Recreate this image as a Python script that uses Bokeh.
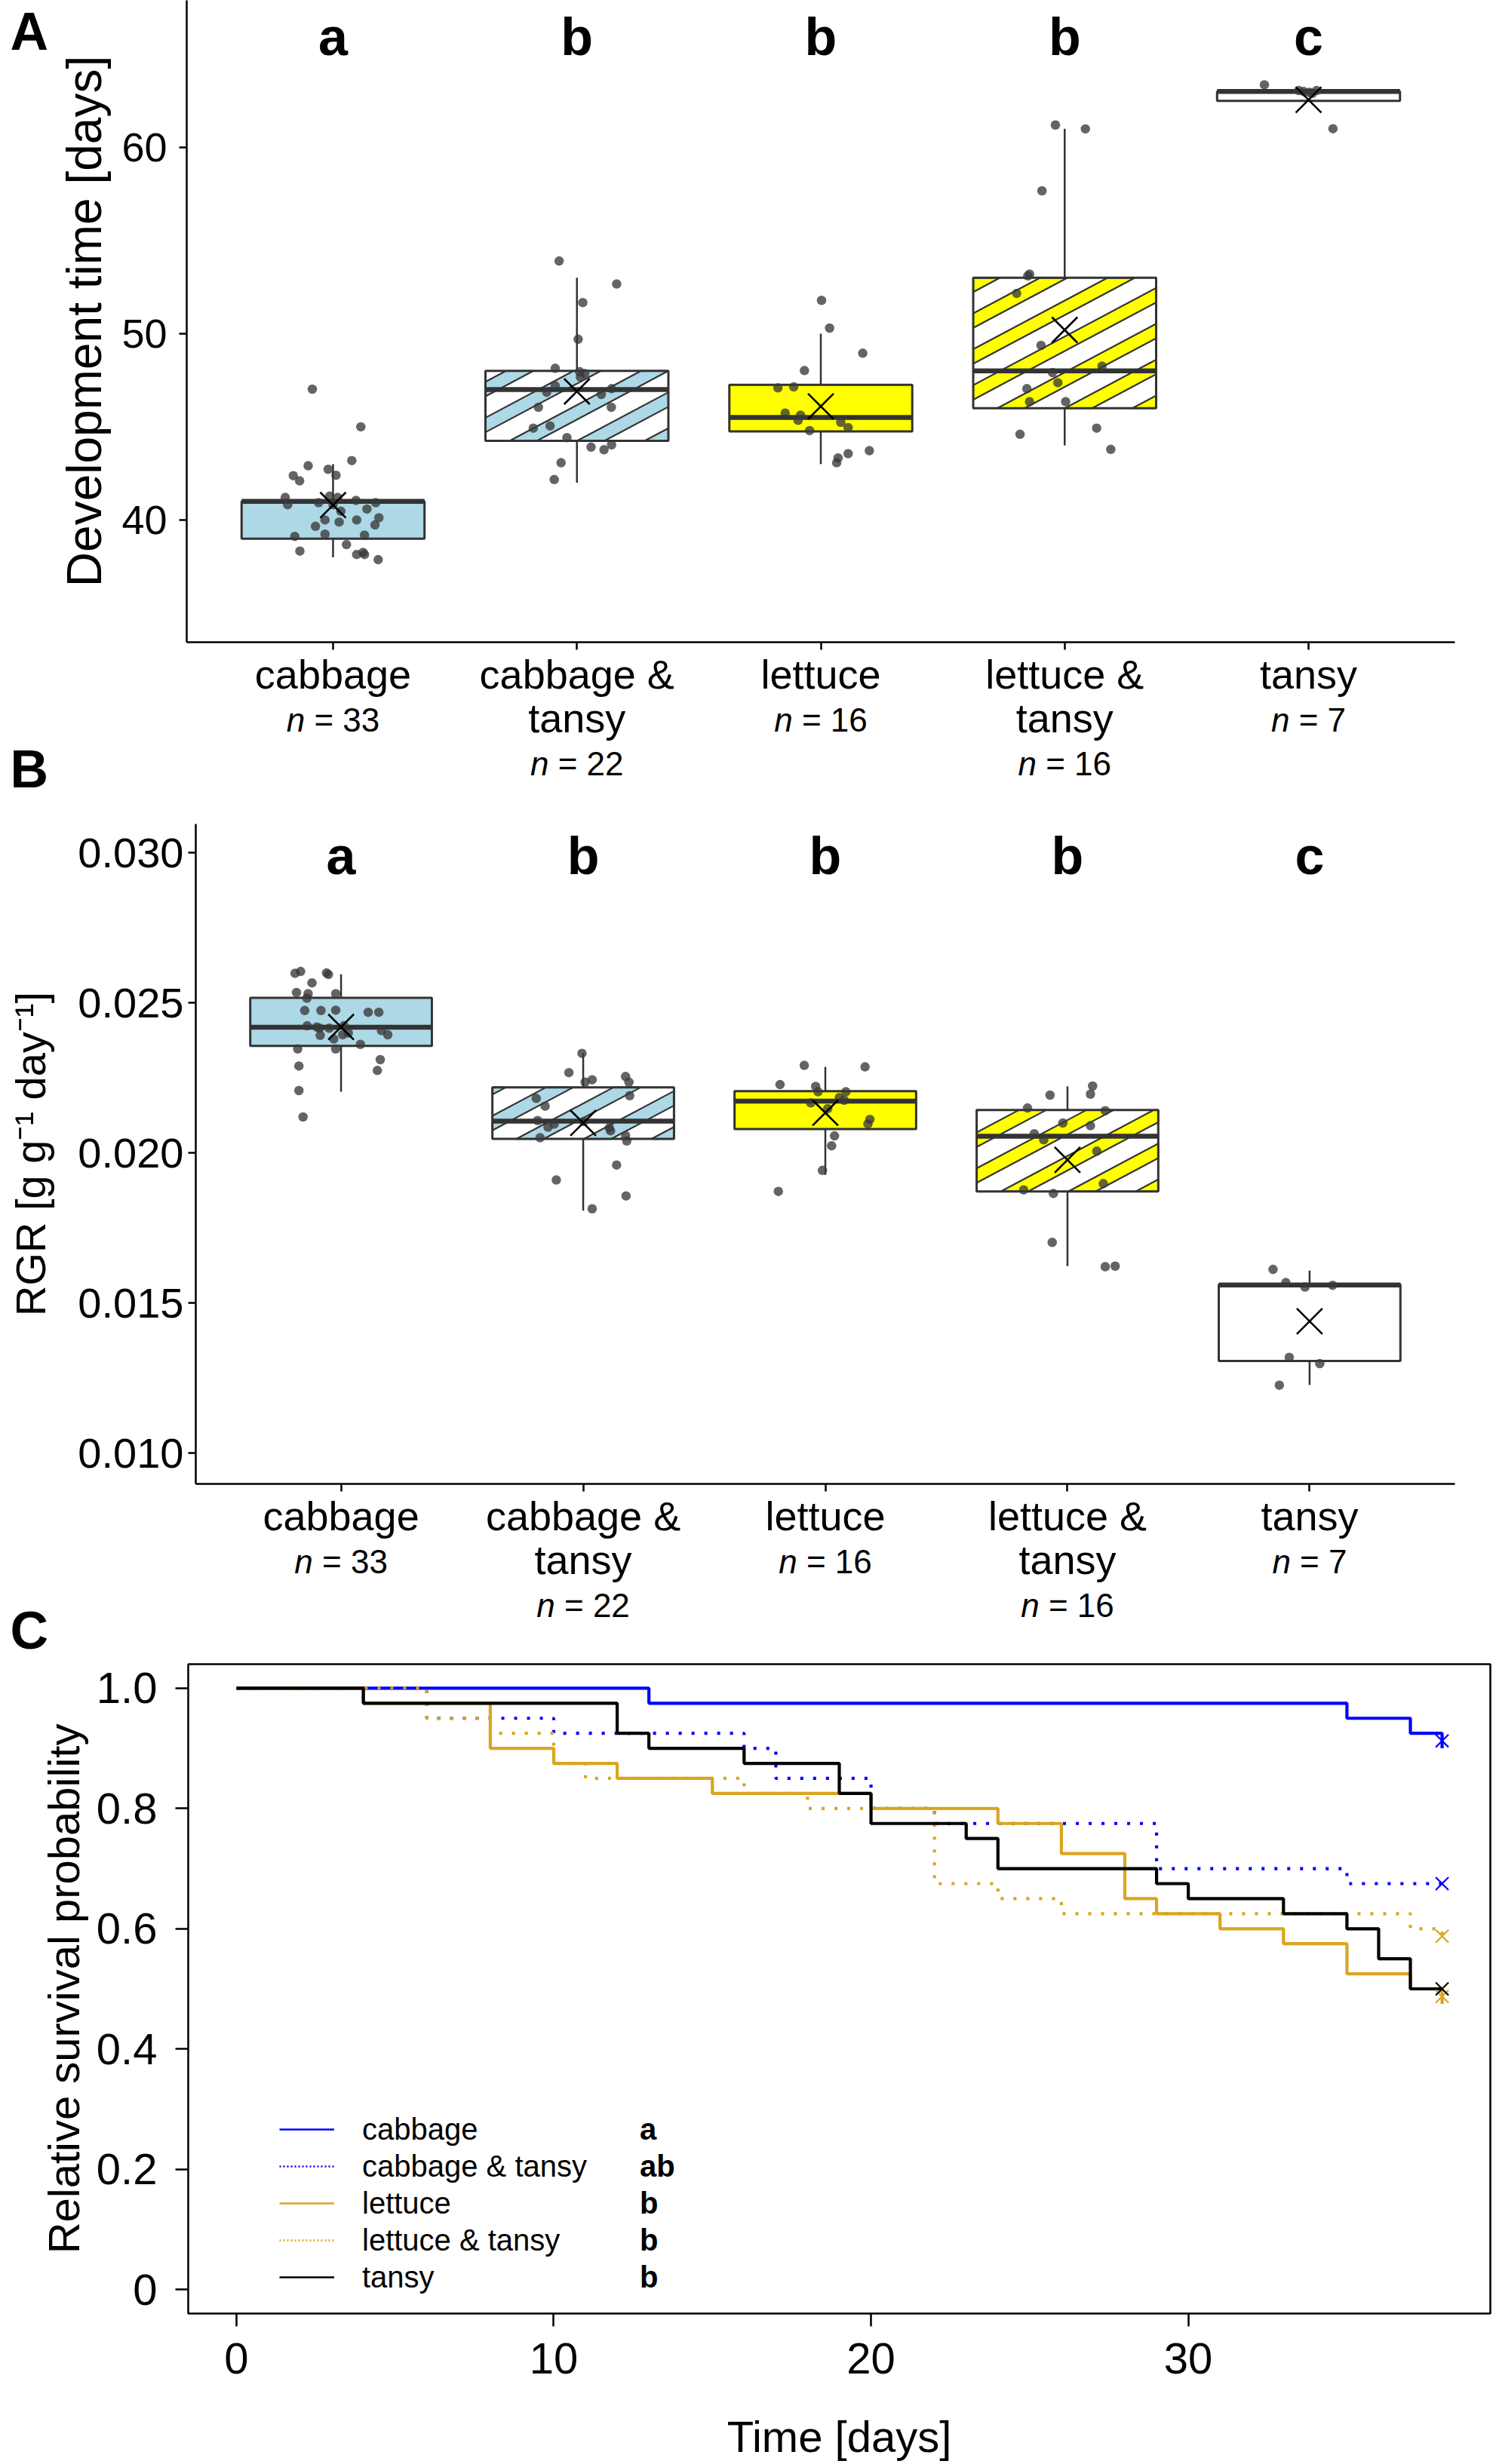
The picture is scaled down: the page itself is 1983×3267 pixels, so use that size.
import math
from bokeh.plotting import figure
from bokeh.models import Range1d, FixedTicker, Legend, LegendItem
from bokeh.layouts import row
from bokeh.embed import file_html
from bokeh.resources import INLINE
from bokeh.core.properties import value

FONT = "Liberation Sans"
DARK = "#333333"
NAN = float("nan")

# ---------------- data ----------------
groups = ["cabbage", "cabbage & tansy", "lettuce", "lettuce & tansy", "tansy"]
cat_lines = [["cabbage"], ["cabbage &", "tansy"], ["lettuce"], ["lettuce &", "tansy"], ["tansy"]]
n_obs = [33, 22, 16, 16, 7]
cats = [1, 2, 3, 4, 5]
box_fill = ["#ADD8E6", "white", "#FFFF00", "white", "white"]
stripe_fill = [None, "#ADD8E6", None, "#FFFF00", None]

# Panel A: development time [days]
dev_letters = ["a", "b", "b", "b", "c"]
dev_q1 = [39.0, 44.25, 44.75, 46.0, 62.5]
dev_med = [41.0, 47.0, 45.5, 48.0, 63.0]
dev_q3 = [41.0, 48.0, 47.25, 53.0, 63.0]
dev_lo = [38.0, 42.0, 43.0, 44.0, 62.5]
dev_hi = [43.0, 53.0, 50.0, 61.0, 63.0]
dev_mean = [40.8, 46.9, 46.1, 50.2, 62.55]

dev_cab_dx = [-0.085, 0.114, 0.077, -0.102, -0.02, 0.012, -0.163, -0.137, -0.196, -0.186, -0.014, 0.019, 0.094,
              0.139, 0.175, 0.0, -0.072, -0.033, 0.025, 0.097, 0.188, 0.172, -0.157, -0.033, 0.129, 0.055, -0.136,
              0.097, 0.129, 0.185, 0.123, -0.059, 0.032]
dev_cab_y = [47.02, 45.0, 43.19, 42.91, 42.72, 42.4, 42.38, 42.1, 41.21, 40.82, 41.28, 41.21, 41.05, 40.59, 40.93,
             40.82, 39.66, 40.0, 39.89, 40.0, 40.12, 39.73, 39.12, 39.24, 39.19, 38.68, 38.33, 38.15, 38.15, 37.87,
             38.26, 40.93, 40.47]
dev_ct_dx = [-0.073, 0.163, 0.024, 0.005, -0.089, 0.011, 0.032, -0.089, -0.124, 0.1, 0.142, -0.158, 0.141, -0.11,
             -0.179, -0.041, 0.058, 0.111, 0.142, -0.065, -0.093, 0.014]
dev_ct_y = [53.9, 52.67, 51.67, 49.7, 48.14, 47.96, 47.86, 47.2, 46.86, 46.74, 47.05, 46.05, 46.05, 45.05, 44.93,
            44.42, 43.91, 43.77, 44.03, 43.07, 42.17, 47.68]
dev_let_dx = [0.003, 0.036, 0.172, -0.067, -0.176, -0.111, -0.146, -0.083, -0.093, -0.046, 0.082, 0.112, 0.071,
              0.112, 0.199, 0.065]
dev_let_y = [51.79, 50.3, 48.95, 48.02, 47.09, 47.14, 45.74, 45.63, 45.35, 44.8, 45.24, 44.96, 43.33, 43.56, 43.72,
             43.07]
dev_lt_dx = [-0.038, 0.085, -0.093, -0.144, -0.197, -0.097, -0.05, -0.028, 0.153, -0.155, -0.144, 0.004, -0.183,
             0.131, 0.189, -0.151]
dev_lt_y = [61.2, 60.99, 57.67, 53.2, 52.16, 49.37, 47.91, 47.37, 48.26, 47.05, 46.35, 46.35, 44.6, 44.93, 43.79,
            53.1]
dev_tan_dx = [-0.181, 0.003, 0.1, -0.02, 0.015, -0.04, 0.033]
dev_tan_y = [63.36, 62.95, 61.0, 63.0, 62.9, 63.05, 63.05]

# Panel B: relative growth rate
rgr_letters = ["a", "b", "b", "b", "c"]
rgr_q1 = [0.02357, 0.02047, 0.0208, 0.01872, 0.01307]
rgr_med = [0.02419, 0.02106, 0.02173, 0.02056, 0.0156]
rgr_q3 = [0.02517, 0.02219, 0.02206, 0.02143, 0.01562]
rgr_lo = [0.02204, 0.01808, 0.01927, 0.01623, 0.01227]
rgr_hi = [0.02596, 0.02333, 0.02287, 0.02222, 0.01608]
rgr_mean = [0.0242, 0.0210, 0.02134, 0.01977, 0.01439]

rgr_cab_dx = [-0.19, -0.167, -0.052, -0.12, -0.184, -0.136, -0.022, -0.141, -0.15, -0.083, -0.022, 0.112, 0.156,
              -0.14, -0.089, -0.049, 0.012, -0.086, 0.007, 0.167, 0.193, -0.179, -0.022, 0.08, -0.174, 0.162, 0.15,
              -0.174, -0.157, -0.06, -0.1, 0.03, -0.03]
rgr_cab_y = [0.02599, 0.02605, 0.02595, 0.02567, 0.02535, 0.02531, 0.02531, 0.02516, 0.02475, 0.02475, 0.02476,
             0.02469, 0.02469, 0.02424, 0.02416, 0.02416, 0.02424, 0.02392, 0.02394, 0.02408, 0.02394, 0.02347,
             0.02347, 0.02362, 0.0229, 0.02311, 0.02275, 0.02208, 0.0212, 0.026, 0.0242, 0.024, 0.0238]
rgr_ct_dx = [-0.005, -0.059, 0.037, 0.008, 0.175, 0.189, 0.192, -0.194, -0.157, -0.188, -0.145, -0.12, 0.108, 0.113,
             -0.178, 0.175, 0.18, 0.138, -0.111, 0.177, 0.037, 0.003]
rgr_ct_y = [0.02332, 0.02268, 0.02244, 0.02236, 0.02255, 0.02236, 0.02191, 0.02182, 0.02156, 0.02108, 0.02086,
            0.02096, 0.02084, 0.02074, 0.02051, 0.02058, 0.0204, 0.0196, 0.0191, 0.01857, 0.01814, 0.02105]
rgr_let_dx = [-0.087, 0.164, -0.187, -0.04, 0.085, 0.078, 0.01, 0.184, 0.176, 0.038, 0.026, -0.012, -0.194, -0.06,
              0.058, -0.03]
rgr_let_y = [0.02292, 0.02287, 0.02228, 0.02222, 0.02204, 0.02176, 0.02148, 0.02112, 0.02097, 0.02057, 0.02024,
             0.01942, 0.01872, 0.02167, 0.02185, 0.02204]
rgr_lt_dx = [-0.165, -0.072, 0.104, 0.095, 0.156, -0.019, 0.095, -0.137, -0.098, 0.121, 0.148, -0.181, -0.058,
             -0.063, 0.156, 0.197]
rgr_lt_y = [0.0215, 0.02193, 0.02223, 0.02196, 0.02141, 0.021, 0.02091, 0.02064, 0.02044, 0.02006, 0.01898, 0.01877,
            0.01865, 0.01702, 0.01621, 0.01623]
rgr_tan_dx = [-0.151, -0.098, -0.019, 0.095, -0.084, 0.042, -0.125]
rgr_tan_y = [0.01612, 0.01568, 0.01553, 0.01559, 0.01319, 0.01298, 0.01226]

# Panel C: survival (Kaplan-Meier steps)
surv_names = ["cabbage", "cabbage & tansy", "lettuce", "lettuce & tansy", "tansy"]
surv_letters = ["a", "ab", "b", "b", "b"]
surv_colors = ["#0000FF", "#0000FF", "#DAA520", "#DAA520", "#000000"]
surv_dash = ["solid", "4 13", "solid", "4 13", "solid"]
cab_t = [0, 13, 35, 37, 38]
cab_s = [1.0, 0.975, 0.95, 0.925, 0.9]
ct_t = [0, 6, 10, 16, 17, 20, 22, 29, 35, 38]
ct_s = [1.0, 0.95, 0.925, 0.9, 0.85, 0.8, 0.775, 0.7, 0.675, 0.675]
let_t = [0, 4, 8, 10, 12, 15, 20, 24, 26, 28, 29, 31, 33, 35, 37, 38]
let_s = [1.0, 0.975, 0.9, 0.875, 0.85, 0.825, 0.8, 0.775, 0.725, 0.65, 0.625, 0.6, 0.575, 0.525, 0.5, 0.475]
lt_t = [0, 6, 8, 10, 11, 16, 18, 22, 24, 26, 37, 38]
lt_s = [1.0, 0.95, 0.925, 0.875, 0.85, 0.825, 0.8, 0.675, 0.65, 0.625, 0.6, 0.575]
tan_t = [0, 4, 12, 13, 16, 19, 20, 23, 24, 29, 30, 33, 35, 36, 37, 38]
tan_s = [1.0, 0.975, 0.925, 0.9, 0.875, 0.825, 0.775, 0.75, 0.7, 0.675, 0.65, 0.625, 0.6, 0.55, 0.5, 0.5]
censor_t = [38, 38, 38, 38, 38]
censor_s = [0.9125, 0.675, 0.4875, 0.5875, 0.5]

# ---------------- layout constants (pixels) ----------------
TW = 1980          # total width
HALF = 0.375       # half box width (category units)
STRIPE_ANGLE = 28.0
STRIPE_P = 42.0
STRIPE_W = 17.0
STRIPE_OFF = 10.0
BL = 0.41          # baseline correction for text glyphs (fraction of font size)
NAME_SIZE = 54
N_SIZE = 44
LETTER_SIZE = 70
NAME_BASE = 54     # first name baseline below the strip top
NAME_STEP = 58
N_STEP = 56


def clip_rect(poly, xmin, xmax, ymin, ymax):
    def clip(pts, inside, inter):
        out = []
        for i in range(len(pts)):
            cur, prev = pts[i], pts[i - 1]
            if inside(cur):
                if not inside(prev):
                    out.append(inter(prev, cur))
                out.append(cur)
            elif inside(prev):
                out.append(inter(prev, cur))
        return out

    def ix(a, b, x0):
        t = (x0 - a[0]) / (b[0] - a[0])
        return (x0, a[1] + t * (b[1] - a[1]))

    def iy(a, b, y0):
        t = (y0 - a[1]) / (b[1] - a[1])
        return (a[0] + t * (b[0] - a[0]), y0)

    pts = poly
    for inside, inter in ((lambda p: p[0] >= xmin, lambda a, b: ix(a, b, xmin)),
                          (lambda p: p[0] <= xmax, lambda a, b: ix(a, b, xmax)),
                          (lambda p: p[1] >= ymin, lambda a, b: iy(a, b, ymin)),
                          (lambda p: p[1] <= ymax, lambda a, b: iy(a, b, ymax))):
        if not pts:
            break
        pts = clip(pts, inside, inter)
    return pts


def stripe_patches(xc, q1, q3, ppx, ppy):
    Wp = 2 * HALF * ppx
    Hp = (q3 - q1) * ppy
    th = math.radians(STRIPE_ANGLE)
    d = (math.cos(th), math.sin(th))
    nv = (-math.sin(th), math.cos(th))
    lo_p = -Wp * math.sin(th)
    hi_p = Hp * math.cos(th)
    t0 = d[0] * Wp / 2 + d[1] * Hp / 2
    L = Wp + Hp
    xs, ys = [], []
    k0 = math.floor((lo_p - STRIPE_OFF) / STRIPE_P) - 1
    k1 = math.ceil((hi_p - STRIPE_OFF) / STRIPE_P) + 1
    for k in range(k0, k1 + 1):
        c0 = k * STRIPE_P + STRIPE_OFF
        c1 = c0 + STRIPE_W
        quad = [(nv[0] * c + d[0] * t, nv[1] * c + d[1] * t)
                for c, t in ((c0, t0 - L), (c0, t0 + L), (c1, t0 + L), (c1, t0 - L))]
        poly = clip_rect(quad, 0, Wp, 0, Hp)
        if len(poly) >= 3:
            xs.append([xc - HALF + px / ppx for px, _ in poly])
            ys.append([q1 + py / ppy for _, py in poly])
    return xs, ys


def bare_fig(width, height, xr, yr, top=0, bottom=0):
    p = figure(width=width, height=height, x_range=Range1d(*xr), y_range=Range1d(*yr),
               output_backend="svg", toolbar_location=None, tools="",
               x_axis_location=None, y_axis_location=None,
               min_border_left=0, min_border_right=0, min_border_top=top, min_border_bottom=bottom)
    p.grid.visible = False
    p.outline_line_color = None
    return p


def txt(p, xs, ys, texts, size, align="left", style="normal", x_offset=0):
    p.text(x=xs, y=[y - BL * size for y in ys], text=texts, x_offset=x_offset,
           text_font=value(FONT), text_font_size=f"{size}px", text_align=align,
           text_baseline="alphabetic", text_font_style=style, text_color="black")


def cat_strip(height, ppx, frame_left, frame_right, letter, letter_base):
    # text strip below a box panel, sharing its category scale
    x0 = 0.4 - frame_left / ppx
    x1 = 5.6 + (TW - frame_right) / ppx
    p = bare_fig(TW, height, (x0, x1), (height, 0))
    nx, ny, nt = [], [], []
    for i, lines in enumerate(cat_lines):
        for j, line in enumerate(lines):
            nx.append(cats[i])
            ny.append(NAME_BASE + NAME_STEP * j)
            nt.append(line)
    txt(p, nx, ny, nt, NAME_SIZE, align="center")
    # "n = .." with italic n
    iy_, ioff, rt_, roff = [], [], [], []
    for i, lines in enumerate(cat_lines):
        rest = f"= {n_obs[i]}"
        w_n = 0.556 * N_SIZE
        w_sp = 0.278 * N_SIZE
        w_rest = (0.584 + 0.278 + 0.556 * len(str(n_obs[i]))) * N_SIZE
        start = -(w_n + w_sp + w_rest) / 2
        iy_.append(NAME_BASE + NAME_STEP * (len(lines) - 1) + N_STEP)
        ioff.append(start)
        rt_.append(rest)
        roff.append(start + w_n + w_sp)
    txt(p, cats, iy_, ["n"] * 5, N_SIZE, style="italic", x_offset=ioff)
    txt(p, cats, iy_, rt_, N_SIZE, x_offset=roff)
    txt(p, [x0 + 13 / ppx], [letter_base], [letter], LETTER_SIZE, style="bold")
    return p


def box_panel(width, height, mbl, mbr, mbt, mbb, yr, q1, med, q3, lo, hi, mean, pts, letters, letter_base,
              yticks, ytick_size, ylab, ylab_size, ylab_standoff, label_standoff):
    p = figure(width=width, height=height, x_range=Range1d(0.4, 5.6), y_range=Range1d(*yr),
               output_backend="svg", toolbar_location=None, tools="",
               min_border_left=mbl, min_border_right=mbr, min_border_top=mbt, min_border_bottom=mbb)
    p.grid.visible = False
    p.outline_line_color = None
    fw = width - mbl - mbr
    fh = height - mbt - mbb
    ppx = fw / 5.2
    ppy = fh / (yr[1] - yr[0])

    left = [c - HALF for c in cats]
    right = [c + HALF for c in cats]
    p.segment(x0=cats, y0=q3, x1=cats, y1=hi, line_color=DARK, line_width=2.5)
    p.segment(x0=cats, y0=q1, x1=cats, y1=lo, line_color=DARK, line_width=2.5)
    p.quad(left=left, right=right, bottom=q1, top=q3, fill_color=box_fill, line_color=None)
    for i in range(5):
        if stripe_fill[i] is None:
            continue
        xs, ys = stripe_patches(cats[i], q1[i], q3[i], ppx, ppy)
        p.patches(xs, ys, fill_color=stripe_fill[i], line_color=DARK, line_width=2.2)
    p.quad(left=left, right=right, bottom=q1, top=q3, fill_color=None, line_color=DARK, line_width=3)
    p.segment(x0=left, y0=med, x1=right, y1=med, line_color=DARK, line_width=6.5)
    for i, (dx, yy) in enumerate(pts):
        p.scatter(x=[cats[i] + v for v in dx], y=yy, size=12.5, fill_color="#383838", fill_alpha=0.78,
                  line_color=None)
    p.scatter(x=cats, y=mean, marker="x", size=48, line_color="black", line_width=2.6)
    ly = yr[1] - (letter_base - BL * 70) / ppy
    p.text(x=cats, y=[ly] * 5, text=letters, text_font=value(FONT), text_font_style="bold",
           text_font_size="70px", text_align="center", text_baseline="alphabetic", text_color="black")

    ya = p.yaxis[0]
    xa = p.xaxis[0]
    for ax in (ya, xa):
        ax.axis_line_color = "black"
        ax.axis_line_width = 2.5
        ax.major_tick_line_color = "black"
        ax.major_tick_line_width = 2.5
        ax.major_tick_out = 10
        ax.major_tick_in = 0
        ax.minor_tick_line_color = None
        ax.major_label_text_font = FONT
        ax.major_label_text_color = "black"
    ya.ticker = FixedTicker(ticks=yticks)
    ya.major_label_text_font_size = f"{ytick_size}px"
    ya.major_label_standoff = label_standoff
    ya.axis_label = ylab
    ya.axis_label_text_font = FONT
    ya.axis_label_text_font_style = "normal"
    ya.axis_label_text_font_size = f"{ylab_size}px"
    ya.axis_label_text_color = "black"
    ya.axis_label_standoff = ylab_standoff
    xa.ticker = FixedTicker(ticks=cats)
    xa.major_label_overrides = {c: "" for c in cats}
    xa.major_label_text_font_size = "1px"
    xa.major_label_standoff = 0
    return p, ppx, ppy


# ---------------- Panel A (page y 0..862) ----------------
LW = 72
A_H, A_L, A_R, A_T, A_B = 862, 175, 52, 0, 11
A_Y = (33.44, 67.89)
dev_pts = [(dev_cab_dx, dev_cab_y), (dev_ct_dx, dev_ct_y), (dev_let_dx, dev_let_y),
           (dev_lt_dx, dev_lt_y), (dev_tan_dx, dev_tan_y)]
pA, ppxA, ppyA = box_panel(TW - LW, A_H, A_L, A_R, A_T, A_B, A_Y, dev_q1, dev_med, dev_q3, dev_lo, dev_hi,
                           dev_mean, dev_pts, dev_letters, 77, [40, 50, 60], 54, "Development time [days]", 64,
                           10, 16)
# panel letter column: same top/bottom borders as panel A, y measured in page pixels
letA = bare_fig(LW, A_H, (0, LW), (A_H - A_B, A_T), top=A_T, bottom=A_B)
txt(letA, [13], [70], ["A"], LETTER_SIZE, style="bold")
rowA = row(letA, pA, spacing=0)
stripA = cat_strip(223, ppxA, LW + A_L, TW - A_R, "B", 186)

# ---------------- Panel B (page y 1085..1978) ----------------
B_H, B_L, B_R, B_T, B_B = 893, 259, 52, 7, 11
B_Y = (0.00897, 0.030967)
rgr_pts = [(rgr_cab_dx, rgr_cab_y), (rgr_ct_dx, rgr_ct_y), (rgr_let_dx, rgr_let_y),
           (rgr_lt_dx, rgr_lt_y), (rgr_tan_dx, rgr_tan_y)]
pB, ppxB, ppyB = box_panel(TW, B_H, B_L, B_R, B_T, B_B, B_Y, rgr_q1, rgr_med, rgr_q3, rgr_lo, rgr_hi, rgr_mean,
                           rgr_pts, rgr_letters, 71, [0.010, 0.015, 0.020, 0.025, 0.030], 56,
                           "RGR [g g\u207b\u00b9 day\u207b\u00b9]", 56, 28, 6)
pB.yaxis[0].major_label_overrides = {0.010: "0.010", 0.015: "0.015", 0.020: "0.020", 0.025: "0.025",
                                     0.030: "0.030"}
stripB = cat_strip(226, ppxB, B_L, TW - B_R, "C", 212)

# ---------------- Panel C (page y 2204..3265) ----------------
C_H, C_L, C_R, C_T, C_B = 1061, 249, 5, 2, 192
pC = figure(width=TW, height=C_H, x_range=Range1d(-1.52, 39.52), y_range=Range1d(-0.04, 1.04),
            output_backend="svg", toolbar_location=None, tools="",
            min_border_left=C_L, min_border_right=C_R, min_border_top=C_T, min_border_bottom=C_B)
pC.grid.visible = False
pC.outline_line_color = "black"
pC.outline_line_width = 2.5

curves = [(cab_t, cab_s), (ct_t, ct_s), (let_t, let_s), (lt_t, lt_s), (tan_t, tan_s)]
for (tt, ss), col, dash in zip(curves, surv_colors, surv_dash):
    pC.step(x=tt, y=ss, mode="after", line_color=col, line_width=4.2, line_dash=dash)
for i in range(5):
    pC.scatter(x=[censor_t[i]], y=[censor_s[i]], marker="x", size=24, line_color=surv_colors[i], line_width=2.2)
# legend keys (thin lines, no visible data)
leg_rs = []
for col, dash in zip(surv_colors, surv_dash):
    leg_rs.append(pC.line(x=[NAN], y=[NAN], line_color=col, line_width=2.5,
                          line_dash=("2 3" if dash != "solid" else "solid")))

leg = Legend(items=[LegendItem(label=n, renderers=[r]) for n, r in zip(surv_names, leg_rs)],
             location=(121, 24), orientation="vertical", glyph_width=73, glyph_height=48, label_height=48,
             spacing=1, padding=0, margin=0, label_standoff=37, border_line_color=None,
             background_fill_alpha=0, label_text_font=FONT, label_text_font_size="40px",
             label_text_color="black")
leg2 = Legend(items=[LegendItem(label=l, renderers=[r]) for l, r in zip(surv_letters, leg_rs)],
              location=(599, 24), orientation="vertical", glyph_width=0, glyph_height=48, label_height=48,
              spacing=1, padding=0, margin=0, label_standoff=0, border_line_color=None,
              background_fill_alpha=0, label_text_font=FONT, label_text_font_size="40px",
              label_text_font_style="bold", label_text_color="black")
pC.add_layout(leg)
pC.add_layout(leg2)

for ax in (pC.xaxis[0], pC.yaxis[0]):
    ax.axis_line_color = None
    ax.major_tick_line_color = "black"
    ax.major_tick_line_width = 2.5
    ax.major_tick_out = 17
    ax.major_tick_in = 0
    ax.minor_tick_line_color = None
    ax.major_label_text_font = FONT
    ax.major_label_text_font_size = "58px"
    ax.major_label_text_color = "black"
    ax.axis_label_text_font = FONT
    ax.axis_label_text_font_style = "normal"
    ax.axis_label_text_color = "black"
pC.xaxis[0].ticker = FixedTicker(ticks=[0, 10, 20, 30])
pC.xaxis[0].major_label_standoff = 22
pC.xaxis[0].axis_label = "Time [days]"
pC.xaxis[0].axis_label_text_font_size = "58px"
pC.xaxis[0].axis_label_standoff = 48
pC.yaxis[0].ticker = FixedTicker(ticks=[0, 0.2, 0.4, 0.6, 0.8, 1.0])
pC.yaxis[0].major_label_overrides = {0: "0", 0.2: "0.2", 0.4: "0.4", 0.6: "0.6", 0.8: "0.8", 1: "1.0"}
pC.yaxis[0].major_label_standoff = 24
pC.yaxis[0].axis_label = "Relative survival probability"
pC.yaxis[0].axis_label_text_font_size = "58px"
pC.yaxis[0].axis_label_standoff = 8

# separate roots stacked vertically (keeps each panel's own frame position)
open("out.html", "w").write(file_html([rowA, stripA, pB, stripB, pC], INLINE))
